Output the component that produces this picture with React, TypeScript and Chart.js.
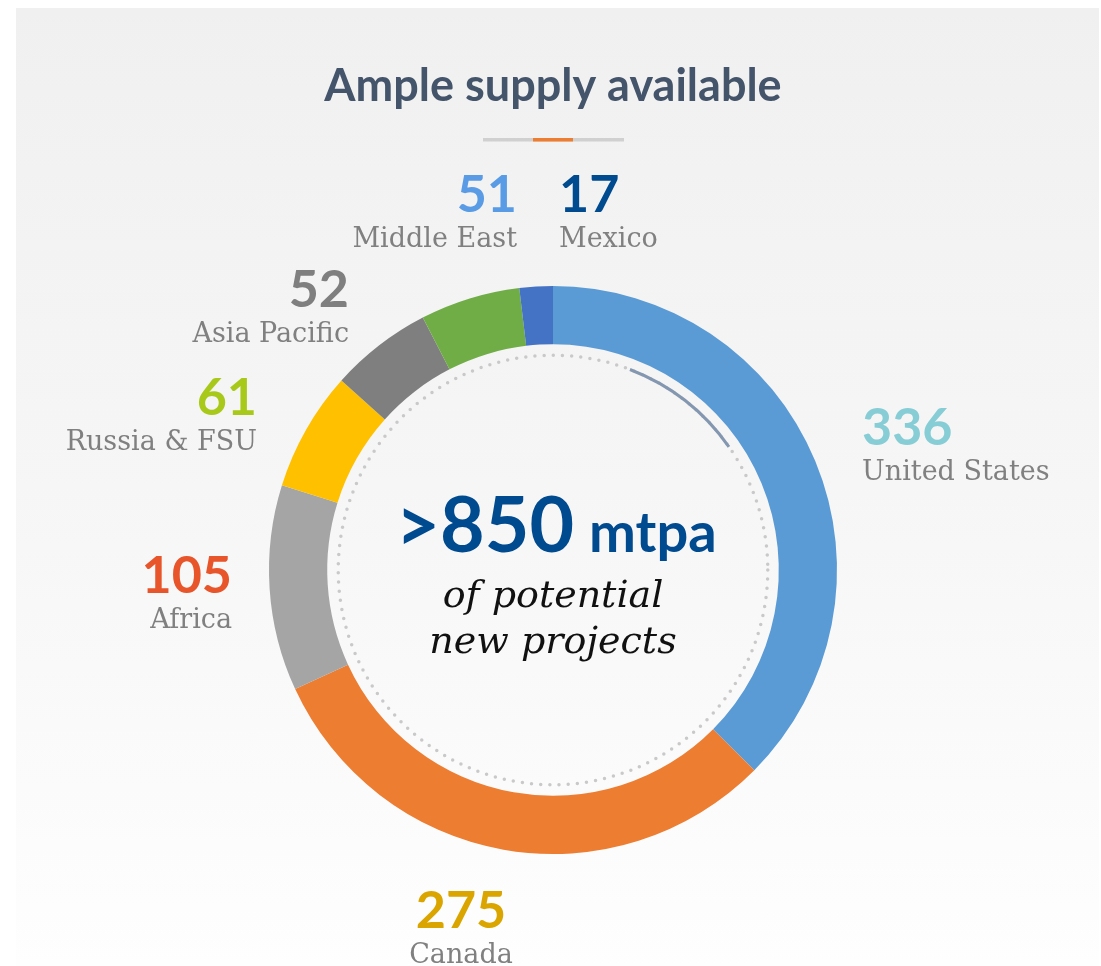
import React, { useEffect, useRef } from "react";
import { Chart, registerables } from "chart.js";

Chart.register(...registerables);

const categories = ["United States", "Canada", "Africa", "Russia & FSU", "Asia Pacific", "Middle East", "Mexico"];
const values = [336, 275, 105, 61, 52, 51, 17];
const segmentColors = ["#5B9BD5", "#ED7D31", "#A5A5A5", "#FFC000", "#7F7F7F", "#70AD47", "#4472C4"];
const valueColors = ["#86CDD6", "#DBA500", "#E8552B", "#A9C91A", "#7F7F7F", "#5A9BE6", "#004A8F"];

const titleText = "Ample supply available";
const headline = ">850";
const headlineUnit = "mtpa";
const subtitleLines = ["of potential", "new projects"];
const highlightArcDeg = [21, 55];

// label anchors relative to doughnut centre (pixels): value baseline offset, align
const labelLayout = [
  { dx: 309, dy: -125, align: "left" },
  { dx: -92, dy: 358, align: "center" },
  { dx: -321, dy: 23, align: "right" },
  { dx: -296, dy: -155, align: "right" },
  { dx: -204, dy: -263, align: "right" },
  { dx: -36, dy: -358, align: "right" },
  { dx: 6, dy: -358, align: "left" },
];

const SANS = "Lato, 'Open Sans', sans-serif";
const SERIF = "'DejaVu Serif', serif";

const decorPlugin = {
  id: "decor",
  beforeDatasetsDraw(chart: any) {
    const ctx = chart.ctx;
    const arc = chart.getDatasetMeta(0).data[0];
    if (!arc) return;
    const { x, y, innerRadius } = arc.getProps(["x", "y", "innerRadius"], true);
    const r = innerRadius - 11;
    ctx.save();
    ctx.strokeStyle = "#C9C9C9";
    ctx.lineWidth = 3.5;
    ctx.lineCap = "round";
    ctx.setLineDash([0, 9.2]);
    ctx.beginPath();
    ctx.arc(x, y, r, 0, Math.PI * 2);
    ctx.stroke();
    ctx.setLineDash([]);
    ctx.lineCap = "butt";
    ctx.strokeStyle = "#8497B0";
    ctx.lineWidth = 3;
    ctx.beginPath();
    const a0 = (highlightArcDeg[0] - 90) * Math.PI / 180;
    const a1 = (highlightArcDeg[1] - 90) * Math.PI / 180;
    ctx.arc(x, y, r, a0, a1);
    ctx.stroke();
    ctx.restore();
  },
  afterDraw(chart: any) {
    const ctx = chart.ctx;
    const arc = chart.getDatasetMeta(0).data[0];
    if (!arc) return;
    const { x, y } = arc.getProps(["x", "y"], true);
    ctx.save();
    // title
    ctx.textAlign = "center";
    ctx.textBaseline = "alphabetic";
    ctx.fillStyle = "#44546A";
    ctx.font = `bold 45px ${SANS}`;
    ctx.fillText(titleText, x, 101);
    // separator
    ctx.fillStyle = "#D0D0D0";
    ctx.fillRect(x - 70, 138, 141, 3.5);
    ctx.fillStyle = "#ED7D31";
    ctx.fillRect(x - 20, 138, 40, 3.5);

    // centre headline
    ctx.font = `bold 77px ${SANS}`;
    const w1 = ctx.measureText(headline).width;
    ctx.font = `bold 56px ${SANS}`;
    const w2 = ctx.measureText(headlineUnit).width;
    const gap = 15;
    const total = w1 + gap + w2;
    const sx = x + 3 - total / 2;
    ctx.textAlign = "left";
    ctx.fillStyle = "#004A8F";
    ctx.font = `bold 77px ${SANS}`;
    ctx.fillText(headline, sx, 552);
    ctx.font = `bold 56px ${SANS}`;
    ctx.fillText(headlineUnit, sx + w1 + gap, 552);

    ctx.textAlign = "center";
    ctx.fillStyle = "#111111";
    ctx.font = `italic 38px ${SERIF}`;
    ctx.fillText(subtitleLines[0], x, 607);
    ctx.fillText(subtitleLines[1], x, 653);

    // labels
    categories.forEach((name, i) => {
      const L = labelLayout[i];
      const lx = x + L.dx;
      const ly = y + L.dy;
      ctx.textAlign = L.align;
      ctx.fillStyle = valueColors[i];
      ctx.font = `bold 52px ${SANS}`;
      ctx.fillText(String(values[i]), lx, ly);
      ctx.fillStyle = "#808080";
      ctx.font = `27px ${SERIF}`;
      ctx.fillText(name, lx, ly + 35);
    });
    ctx.restore();
  },
};

export default function App() {
  const ref = useRef<HTMLCanvasElement | null>(null);
  useEffect(() => {
    if (!ref.current) return;
    const chart = new Chart(ref.current, {
      type: "doughnut",
      data: {
        labels: categories,
        datasets: [
          {
            data: values,
            backgroundColor: segmentColors,
            borderWidth: 0,
            hoverOffset: 0,
          },
        ],
      },
      options: {
        responsive: false,
        animation: false,
        cutout: "79.5%",
        layout: { padding: { left: 269, right: 264, top: 286, bottom: 112 } },
        plugins: {
          legend: { display: false },
          tooltip: { enabled: false },
          title: { display: false },
        },
      },
      plugins: [decorPlugin],
    });
    return () => chart.destroy();
  }, []);
  return (
    <div style={{ position: "absolute", left: 0, top: 0, width: 1101, height: 966, background: "#ffffff", overflow: "hidden" }}>
      <div
        style={{
          position: "absolute",
          left: 16,
          top: 8,
          width: 1083,
          height: 958,
          background: "linear-gradient(#F0F0F0, #F6F6F6 50%, #FEFEFE)",
        }}
      />
      <canvas ref={ref} width={1101} height={966} style={{ position: "absolute", left: 0, top: 0 }} />
    </div>
  );
}
